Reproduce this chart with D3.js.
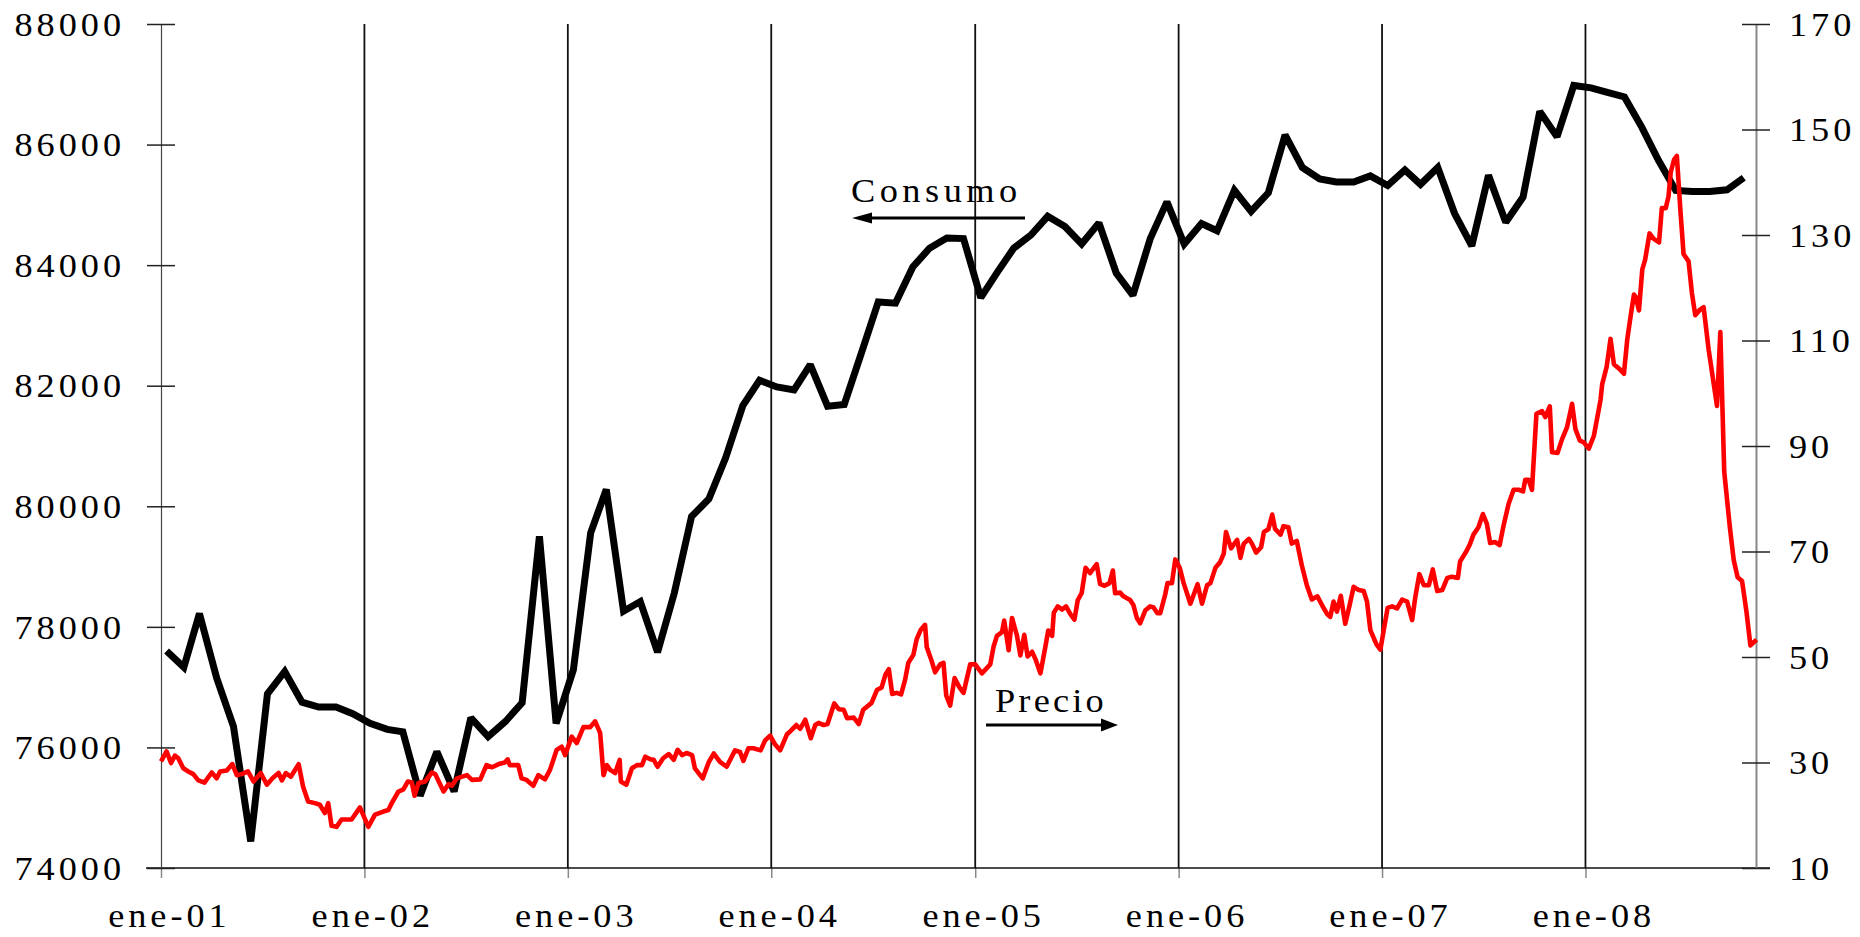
<!DOCTYPE html>
<html>
<head>
<meta charset="utf-8">
<script src="https://cdn.jsdelivr.net/npm/d3@7"></script>
<style>
  body { margin: 0; background: #fff; }
  svg { display: block; }
</style>
</head>
<body>
<svg width="1860" height="937"></svg>
<script>
// consumo mensual (eje izquierdo), ene-01 .. oct-08
var consumo = [
  77600, 77330, 78220, 77150, 76350, 74440, 76890, 77260, 76750, 76670, 76670, 76560,
  76400, 76300, 76260, 75200, 75930, 75270, 76490, 76180, 76430, 76740, 79500, 76400,
  77290, 79560, 80280, 78260, 78420, 77580, 78560, 79830, 80120, 80800, 81670, 82090,
  81980, 81930, 82350, 81660, 81690, 82550, 83390, 83370, 83970, 84280, 84450, 84440,
  83460, 83900, 84280, 84500, 84810, 84640, 84350, 84700, 83870, 83500, 84440, 85050,
  84350, 84690, 84570, 85240, 84890, 85200, 86160, 85620, 85430, 85380, 85380, 85480,
  85320, 85580, 85340, 85620, 84860, 84320, 85490, 84710, 85130, 86550, 86130, 86980,
  86940, 86860, 86790, 86290, 85740, 85240, 85220, 85220, 85250, 85450
];

// precio (eje derecho): [años desde ene-01, valor]
var precio = [
  [0.000,30.2],[0.028,32.1],[0.049,29.9],[0.069,31.3],[0.085,30.8],[0.110,28.9],[0.134,28.3],[0.159,27.8],
  [0.183,26.6],[0.213,26.2],[0.249,28.1],[0.274,27.0],[0.290,28.3],[0.323,28.5],[0.351,29.7],[0.372,27.6],
  [0.396,27.8],[0.426,28.3],[0.454,26.4],[0.491,28.0],[0.519,25.8],[0.547,27.0],[0.577,28.0],[0.593,26.6],
  [0.613,28.0],[0.639,27.3],[0.675,29.7],[0.699,25.4],[0.724,22.6],[0.757,22.3],[0.781,22.0],[0.806,20.4],
  [0.822,22.3],[0.839,18.0],[0.863,17.8],[0.888,19.2],[0.937,19.2],[0.978,21.5],[1.019,17.8],[1.052,20.1],
  [1.093,20.7],[1.117,21.0],[1.134,22.3],[1.166,24.5],[1.191,24.9],[1.212,26.4],[1.232,26.2],[1.245,23.7],
  [1.265,26.1],[1.297,26.4],[1.330,28.1],[1.346,27.8],[1.387,24.5],[1.412,25.9],[1.428,25.6],[1.453,27.0],
  [1.502,27.6],[1.527,26.7],[1.568,26.8],[1.600,29.5],[1.625,29.1],[1.658,29.7],[1.690,30.0],[1.702,30.6],
  [1.715,29.5],[1.756,29.5],[1.772,27.0],[1.797,26.7],[1.830,25.6],[1.854,27.6],[1.887,26.8],[1.912,28.6],
  [1.944,32.4],[1.969,33.0],[1.985,31.4],[2.018,34.9],[2.043,33.7],[2.075,36.7],[2.108,36.7],[2.133,37.8],
  [2.157,35.6],[2.174,27.6],[2.190,29.5],[2.206,28.6],[2.231,28.0],[2.252,30.5],[2.260,26.4],[2.285,25.8],
  [2.313,28.9],[2.337,29.5],[2.362,29.5],[2.378,31.1],[2.403,30.6],[2.419,30.5],[2.439,29.2],[2.468,30.8],
  [2.493,31.6],[2.518,30.5],[2.537,32.4],[2.559,31.4],[2.583,31.8],[2.608,31.4],[2.624,28.9],[2.662,27.0],
  [2.690,30.1],[2.717,31.7],[2.747,30.1],[2.780,29.2],[2.821,32.3],[2.845,32.0],[2.862,30.3],[2.886,32.7],
  [2.911,32.7],[2.947,32.3],[2.968,34.2],[2.993,35.1],[3.017,33.4],[3.042,32.3],[3.074,35.3],[3.091,35.9],
  [3.120,37.1],[3.140,36.4],[3.165,38.1],[3.192,34.6],[3.214,37.1],[3.230,37.5],[3.255,37.1],[3.274,37.3],
  [3.307,41.2],[3.328,40.1],[3.353,40.0],[3.369,38.4],[3.402,38.5],[3.427,37.3],[3.451,40.0],[3.492,41.3],
  [3.517,43.8],[3.541,44.2],[3.558,46.7],[3.577,47.7],[3.591,43.0],[3.615,43.2],[3.635,42.9],[3.656,45.6],
  [3.672,48.9],[3.697,50.4],[3.713,53.4],[3.733,55.1],[3.754,56.1],[3.763,51.9],[3.787,49.2],[3.803,47.1],
  [3.828,48.6],[3.844,48.9],[3.857,42.7],[3.877,40.8],[3.898,46.0],[3.923,44.2],[3.943,43.2],[3.975,48.6],
  [4.000,48.6],[4.033,46.9],[4.074,48.6],[4.090,52.0],[4.106,54.0],[4.131,54.7],[4.143,56.9],[4.164,51.3],
  [4.180,57.4],[4.205,54.0],[4.221,50.3],[4.241,54.2],[4.257,50.1],[4.278,51.0],[4.295,49.6],[4.319,46.9],
  [4.344,52.0],[4.360,55.0],[4.377,54.0],[4.385,58.4],[4.405,59.6],[4.426,59.0],[4.447,59.6],[4.467,58.1],
  [4.486,57.1],[4.503,60.8],[4.524,62.1],[4.541,66.9],[4.565,65.9],[4.598,67.6],[4.614,63.8],[4.634,63.5],
  [4.660,64.0],[4.677,66.4],[4.688,62.1],[4.713,62.2],[4.729,61.5],[4.762,60.8],[4.778,59.8],[4.794,57.4],
  [4.811,56.4],[4.835,58.8],[4.860,59.6],[4.876,59.4],[4.896,58.3],[4.909,58.3],[4.934,61.9],[4.945,64.0],
  [4.966,64.0],[4.983,68.5],[5.004,66.9],[5.024,64.0],[5.057,60.1],[5.093,63.8],[5.114,60.1],[5.138,63.6],
  [5.155,64.0],[5.179,66.9],[5.201,67.9],[5.220,69.6],[5.232,73.7],[5.256,70.6],[5.286,72.2],[5.302,68.8],
  [5.319,71.5],[5.343,72.4],[5.360,71.4],[5.381,69.8],[5.404,70.8],[5.417,73.7],[5.441,74.2],[5.458,77.0],
  [5.474,74.3],[5.499,73.2],[5.515,74.8],[5.540,74.6],[5.556,71.5],[5.581,72.0],[5.605,67.4],[5.630,63.6],
  [5.654,60.9],[5.682,61.5],[5.704,59.9],[5.728,58.2],[5.744,57.6],[5.761,60.5],[5.777,58.6],[5.797,61.6],
  [5.818,56.3],[5.839,59.9],[5.859,63.3],[5.884,62.7],[5.908,62.5],[5.925,60.5],[5.941,55.1],[5.971,52.4],
  [5.990,51.4],[6.007,55.1],[6.026,59.3],[6.047,59.6],[6.072,59.2],[6.097,60.9],[6.121,60.5],[6.146,57.0],
  [6.162,61.6],[6.183,65.7],[6.203,63.6],[6.228,63.6],[6.249,66.6],[6.269,62.5],[6.293,62.7],[6.318,65.0],
  [6.342,65.2],[6.370,65.0],[6.383,68.1],[6.408,69.8],[6.429,71.2],[6.449,73.2],[6.473,74.6],[6.495,77.1],
  [6.514,75.3],[6.531,71.6],[6.555,71.8],[6.577,71.2],[6.596,74.9],[6.621,79.0],[6.645,81.7],[6.670,81.7],
  [6.691,81.4],[6.703,83.6],[6.719,83.6],[6.735,81.7],[6.757,96.1],[6.785,96.6],[6.801,95.5],[6.822,97.5],
  [6.834,88.8],[6.862,88.7],[6.883,91.3],[6.907,93.6],[6.932,98.0],[6.948,93.2],[6.970,91.0],[6.989,90.7],
  [7.014,89.5],[7.039,91.9],[7.071,98.7],[7.080,101.7],[7.101,105.0],[7.120,110.3],[7.137,105.5],[7.161,104.7],
  [7.186,103.7],[7.202,110.2],[7.219,114.6],[7.235,118.7],[7.243,118.3],[7.260,115.7],[7.276,123.5],[7.292,125.3],
  [7.314,130.3],[7.333,129.3],[7.358,128.6],[7.374,135.1],[7.391,135.1],[7.407,137.3],[7.418,141.9],[7.432,144.3],
  [7.448,145.0],[7.464,135.2],[7.481,126.4],[7.505,125.0],[7.522,119.0],[7.538,114.8],[7.563,115.9],[7.579,116.3],
  [7.604,108.3],[7.645,97.6],[7.661,111.6],[7.681,85.1],[7.707,74.7],[7.726,68.4],[7.746,65.1],[7.767,64.4],
  [7.789,58.5],[7.808,52.2],[7.838,53.3]
];

var ticksIzq = [74000, 76000, 78000, 80000, 82000, 84000, 86000, 88000];
var ticksDer = [10, 30, 50, 70, 90, 110, 130, 150, 170];
var anios = [2001, 2002, 2003, 2004, 2005, 2006, 2007, 2008];

createChart(d3.select("svg"));

function createChart(svg) {
  var m = { l: 161, r: 1756, t: 24, b: 868 };
  var fuente = "'Liberation Serif', 'Times New Roman', serif";
  // la letra del original es un poco mas ancha que Times
  var ancho = 1.1;

  var es = d3.timeFormatLocale({
    dateTime: "%A, %e de %B de %Y, %X", date: "%d/%m/%Y", time: "%H:%M:%S",
    periods: ["AM", "PM"],
    days: ["domingo","lunes","martes","miércoles","jueves","viernes","sábado"],
    shortDays: ["dom","lun","mar","mié","jue","vie","sáb"],
    months: ["enero","febrero","marzo","abril","mayo","junio","julio","agosto","septiembre","octubre","noviembre","diciembre"],
    shortMonths: ["ene","feb","mar","abr","may","jun","jul","ago","sep","oct","nov","dic"]
  });

  var inicio = new Date(2001, 0, 1);
  var x = d3.scaleTime()
      .domain([inicio, new Date(2008, 10, 2)])
      .range([m.l, m.r]);
  var yIzq = d3.scaleLinear().domain([74000, 88000]).range([m.b, m.t]);
  var yDer = d3.scaleLinear().domain([10, 170]).range([m.b, m.t]);

  var fechasAnio = anios.map(function(a) { return new Date(a, 0, 1); });

  // lineas verticales de cada año
  svg.append("g").selectAll("line")
      .data(fechasAnio.slice(1))
      .enter()
      .append("line")
      .attr("x1", function(d) { return x(d); })
      .attr("x2", function(d) { return x(d); })
      .attr("y1", m.t)
      .attr("y2", m.b)
      .attr("stroke", "#111")
      .attr("stroke-width", 1.8);

  // eje x
  var gx = svg.append("g")
      .attr("transform", "translate(0," + m.b + ")")
      .call(d3.axisBottom(x).tickValues(fechasAnio).tickSize(10).tickFormat(es.format("%b-%y")));
  gx.select(".domain").remove();
  gx.selectAll(".tick line").attr("stroke", "#888").attr("stroke-width", 1.5);
  gx.selectAll(".tick text")
      .attr("y", 59)
      .attr("dy", 0)
      .attr("x", 7.2);

  // linea base
  svg.append("line")
      .attr("x1", m.l - 15).attr("x2", m.r + 14)
      .attr("y1", m.b).attr("y2", m.b)
      .attr("stroke", "#111")
      .attr("stroke-width", 1.5);

  // eje izquierdo
  var gl = svg.append("g")
      .attr("transform", "translate(" + m.l + ",0)")
      .call(d3.axisLeft(yIzq).tickValues(ticksIzq).tickSizeInner(14).tickSizeOuter(0).tickFormat(d3.format("d")));
  gl.select(".domain").attr("stroke", "#444").attr("stroke-width", 1.2);
  gl.selectAll(".tick line").attr("x1", 14).attr("stroke", "#222").attr("stroke-width", 1.5);
  gl.selectAll(".tick text").attr("x", -36 / ancho).attr("dy", "0.34em");

  // eje derecho
  var gr = svg.append("g")
      .attr("transform", "translate(" + m.r + ",0)")
      .call(d3.axisRight(yDer).tickValues(ticksDer).tickSizeInner(14).tickSizeOuter(0).tickFormat(d3.format("d")));
  gr.select(".domain").attr("stroke", "#888").attr("stroke-width", 2);
  gr.selectAll(".tick line").attr("x1", -14).attr("stroke", "#222").attr("stroke-width", 1.5);
  gr.selectAll(".tick text").attr("x", 33 / ancho).attr("dy", "0.34em");

  [gx, gl, gr].forEach(function(g) {
    g.attr("font-family", fuente).attr("font-size", 33);
    g.selectAll("text")
      .attr("fill", "#000")
      .attr("transform", "scale(" + ancho + ",1)")
      .style("letter-spacing", "3.6px");
  });

  // consumo
  var lineaC = d3.line()
      .x(function(d, i) { return x(new Date(2001, i, 11)); })
      .y(function(d) { return yIzq(d); });
  svg.append("path")
      .datum(consumo)
      .attr("d", lineaC)
      .attr("fill", "none")
      .attr("stroke", "#000")
      .attr("stroke-width", 7)
      .attr("stroke-linejoin", "miter")
      .attr("stroke-miterlimit", 2);

  // precio
  var lineaP = d3.line()
      .x(function(d) { return x(d3.timeDay.offset(inicio, Math.round(d[0] * 365.25))); })
      .y(function(d) { return yDer(d[1]); });
  svg.append("path")
      .datum(precio)
      .attr("d", lineaP)
      .attr("fill", "none")
      .attr("stroke", "#ff0000")
      .attr("stroke-width", 4.6)
      .attr("stroke-linejoin", "round");

  // rotulos con flecha
  svg.append("text")
      .text("Consumo")
      .attr("transform", "translate(851,202) scale(" + ancho + ",1)")
      .attr("font-family", fuente)
      .attr("font-size", 33)
      .style("letter-spacing", "4.1px");
  svg.append("line")
      .attr("x1", 1025).attr("x2", 868)
      .attr("y1", 218).attr("y2", 218)
      .attr("stroke", "#000").attr("stroke-width", 3);
  svg.append("path")
      .attr("d", "M852,218L872,212.5L872,223.5Z")
      .attr("fill", "#000");

  svg.append("text")
      .text("Precio")
      .attr("transform", "translate(995,712) scale(" + ancho + ",1)")
      .attr("font-family", fuente)
      .attr("font-size", 33)
      .style("letter-spacing", "2.9px");
  svg.append("line")
      .attr("x1", 986).attr("x2", 1104)
      .attr("y1", 725).attr("y2", 725)
      .attr("stroke", "#000").attr("stroke-width", 3);
  svg.append("path")
      .attr("d", "M1118,725L1101,718.5L1101,731.5Z")
      .attr("fill", "#000");
}
</script>
</body>
</html>
